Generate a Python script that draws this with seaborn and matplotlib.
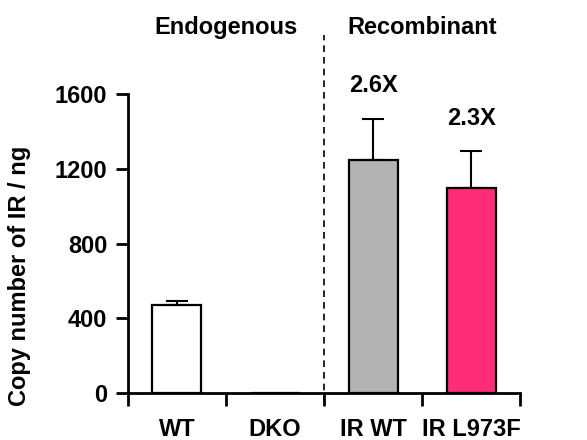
import numpy as np
import matplotlib
matplotlib.use('Agg')
import matplotlib.pyplot as plt
import seaborn as sns

categories = ['WT', 'DKO', 'IR WT', 'IR L973F']
copy_number = [470, 0, 1250, 1100]
error_up = [24, 0, 220, 195]
bar_colors = ['#ffffff', '#ffffff', '#b3b3b3', '#ff2d78']
fold_labels = ['', '', '2.6X', '2.3X']
group_labels = ['Endogenous', 'Recombinant']
y_ticks = [0, 400, 800, 1200, 1600]

sns.set_style('white')
plt.rcParams['font.family'] = ['Liberation Sans', 'DejaVu Sans']
plt.rcParams['font.weight'] = 'bold'
plt.rcParams['text.color'] = 'black'
plt.rcParams['axes.labelcolor'] = 'black'
plt.rcParams['xtick.color'] = 'black'
plt.rcParams['ytick.color'] = 'black'

FS = 17

fig = plt.figure(figsize=(5.87, 4.4), dpi=100)
ax = fig.add_axes([0.218, 0.1075, 0.668, 0.678])

sns.barplot(x=categories, y=copy_number, hue=categories, palette=bar_colors,
            legend=False, edgecolor='black', linewidth=1.6, width=0.5,
            saturation=1, ax=ax)

# nur obere Fehlerbalken
x = np.arange(len(categories))
err = np.array(error_up)
m = err > 0
ax.errorbar(x[m], np.array(copy_number)[m],
            yerr=[np.zeros(m.sum()), err[m]],
            fmt='none', ecolor='black', elinewidth=1.5, capsize=8, capthick=1.5)

ax.set_xlim(-0.5, 3.5)
ax.set_ylim(0, 1600)
ax.set_yticks(y_ticks)
ax.set_yticklabels([str(t) for t in y_ticks], fontsize=FS, fontweight='bold')

# Ticks an den Grenzen, Beschriftung in der Mitte
ax.set_xticks(np.arange(-0.5, 4.0, 1.0))
ax.set_xticklabels([])
ax.set_xticks(x, minor=True)
ax.set_xticklabels(categories, minor=True, fontsize=FS, fontweight='bold')
ax.tick_params(axis='x', which='major', direction='out', length=9, width=2,
               bottom=True)
ax.tick_params(axis='x', which='minor', length=0, pad=18)
ax.tick_params(axis='y', direction='out', length=9, width=2, left=True, pad=6)

for s in ['top', 'right']:
    ax.spines[s].set_visible(False)
for s in ['left', 'bottom']:
    ax.spines[s].set_linewidth(2)
    ax.spines[s].set_color('black')

fig.text(20 / 587, 1 - 276 / 440, 'Copy number of IR / ng', rotation=90,
         ha='center', va='center', fontsize=FS, fontweight='bold')

# gestrichelte Trennlinie
ax.plot([1.5, 1.5], [-0.03, 1.20], transform=ax.get_xaxis_transform(),
        color='black', linestyle=(0, (4, 3)), linewidth=1.2, clip_on=False)

ax.text(0.5, 1.225, group_labels[0], transform=ax.get_xaxis_transform(),
        ha='center', va='center', fontsize=FS, fontweight='bold')
ax.text(2.5, 1.225, group_labels[1], transform=ax.get_xaxis_transform(),
        ha='center', va='center', fontsize=FS, fontweight='bold')

for i, lab in enumerate(fold_labels):
    if lab:
        ax.text(i, copy_number[i] + error_up[i] + 178, lab, ha='center',
                va='center', fontsize=FS, fontweight='bold')

fig.savefig('out.png', dpi=100, facecolor='white')
